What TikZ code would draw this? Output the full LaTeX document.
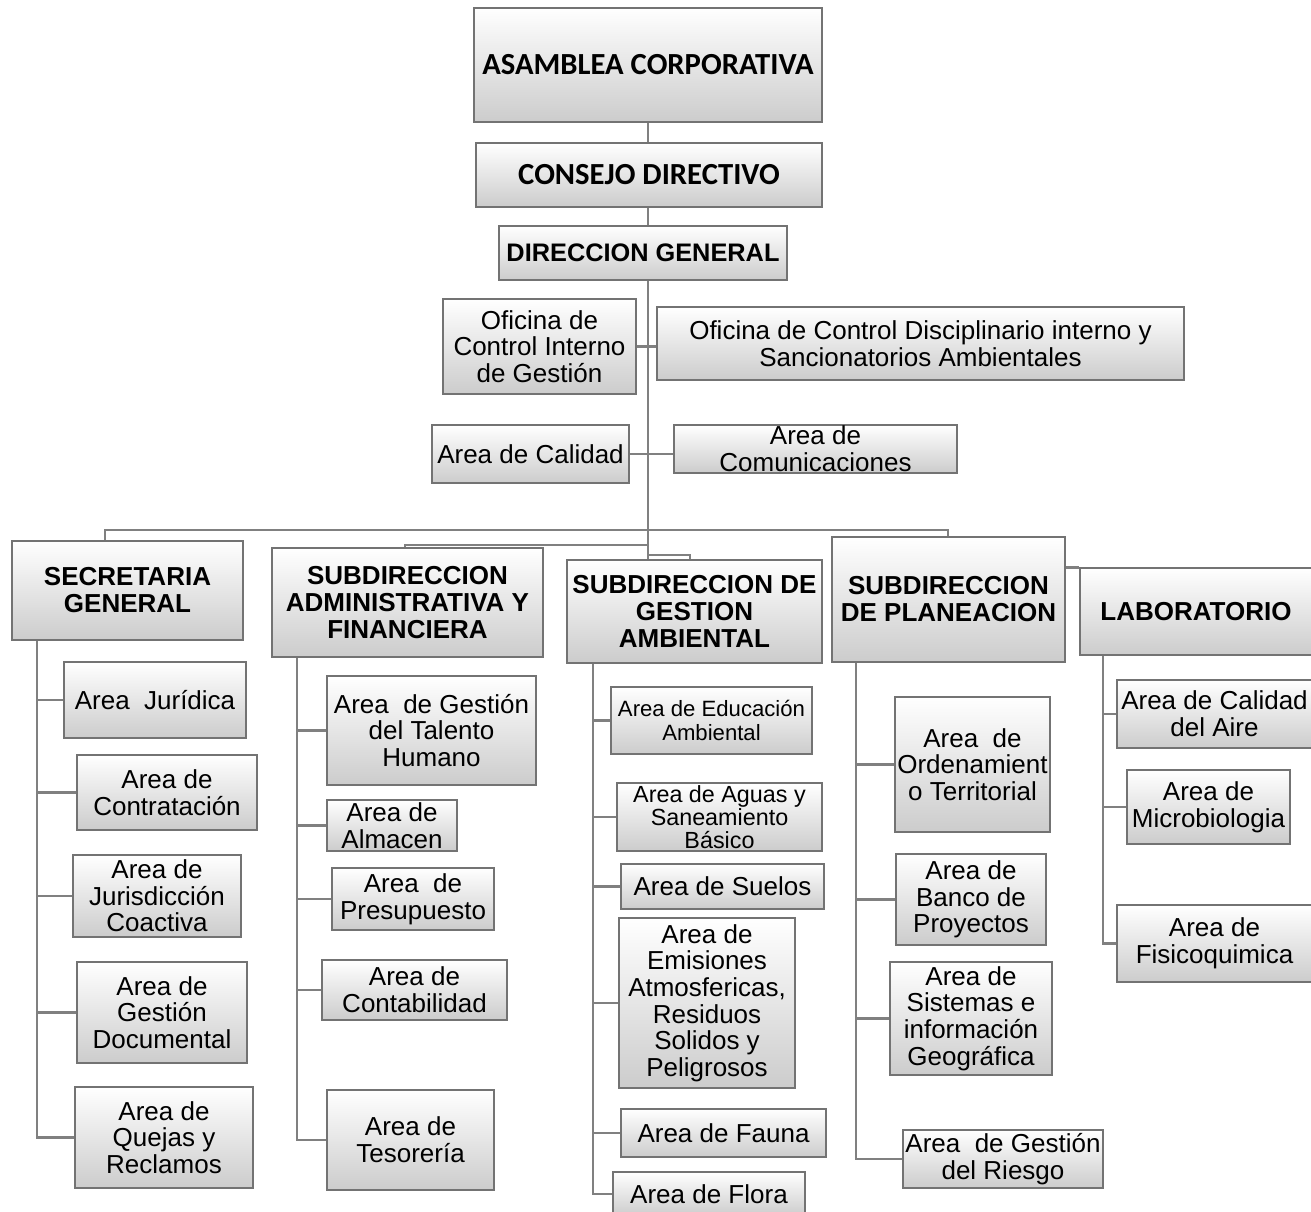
\documentclass[tikz,border=0pt]{standalone}
\usepackage{fontspec}
\setmainfont{Liberation Sans}
\newfontfamily\calfont{Carlito}
\usetikzlibrary{shadows,backgrounds}
\tikzset{
 box/.style={draw=black!55, line width=1pt, top color=white, bottom color=black!20, inner sep=0pt, align=center,
   font=\fontsize{19.5}{20}\selectfont, drop shadow={shadow xshift=1pt, shadow yshift=-1pt, opacity=0.3}},
 head/.style={box, font=\fontsize{19.5}{20.25}\selectfont\bfseries},
 conn/.style={draw=black!50, line width=2.2pt},
}
\newcommand\obox[7]{\node[#6, minimum width={(#4-#2)*0.75pt}, minimum height={(#5-#3)*0.75pt}] (#1) at ({(#2+#4)/2},{(#3+#5)/2}) {#7};}
\begin{document}
\begin{tikzpicture}[x=0.75pt,y=-0.75pt]
\useasboundingbox (0,0) rectangle (1311,1211);
% top
\obox{ac}{474}{8}{822}{122}{box, font=\calfont\bfseries\fontsize{23}{24}\selectfont}{ASAMBLEA CORPORATIVA}
\obox{cd}{476}{143}{822}{207}{box, font=\calfont\bfseries\fontsize{23}{24}\selectfont}{CONSEJO DIRECTIVO}
\obox{dg}{499}{226}{787}{280}{box, font=\bfseries\fontsize{19}{20}\selectfont}{DIRECCION GENERAL}
\obox{ocig}{443}{299}{636}{394}{box}{Oficina de\\Control Interno\\de Gestión}
\obox{ocd}{657}{307}{1184}{380}{box}{Oficina de Control Disciplinario interno y\\Sancionatorios Ambientales}
\obox{cal}{432}{425}{629}{483}{box}{Area de Calidad}
\obox{com}{674}{425}{957}{473}{box}{Area de\\Comunicaciones}
% second row
\obox{sg}{12}{541}{243}{640}{head}{SECRETARIA\\GENERAL}
\obox{sadf}{272}{548}{543}{657}{head}{SUBDIRECCION\\ADMINISTRATIVA Y\\FINANCIERA}
\obox{ga}{567}{560}{822}{663}{head}{SUBDIRECCION DE\\GESTION\\AMBIENTAL}
\obox{pl}{832}{537}{1065}{662}{head}{SUBDIRECCION\\DE PLANEACION}
\obox{lab}{1080}{568}{1312}{655}{head}{LABORATORIO}
% secretaria
\obox{sg1}{64}{662}{246}{738}{box}{Area~~Jurídica}
\obox{sg2}{77}{755}{257}{830}{box}{Area de\\Contratación}
\obox{sg3}{73}{855}{241}{937}{box}{Area de\\Jurisdicción\\Coactiva}
\obox{sg4}{77}{962}{247}{1063}{box}{Area de\\Gestión\\Documental}
\obox{sg5}{75}{1087}{253}{1188}{box}{Area de\\Quejas y\\Reclamos}
% sadf
\obox{sa1}{327}{676}{536}{785}{box}{Area~~de Gestión\\del Talento\\Humano}
\obox{sa2}{327}{800}{457}{851}{box}{Area de\\Almacen}
\obox{sa3}{332}{868}{494}{930}{box}{Area~~de\\Presupuesto}
\obox{sa4}{322}{960}{507}{1020}{box}{Area de\\Contabilidad}
\obox{sa5}{327}{1090}{494}{1190}{box}{Area de\\Tesorería}
% gestion ambiental
\obox{ga1}{611}{687}{812}{754}{box, font=\fontsize{16.6}{18}\selectfont}{Area de Educación\\Ambiental}
\obox{ga2}{617}{783}{822}{851}{box, font=\fontsize{17.5}{17}\selectfont}{Area de Aguas y\\Saneamiento\\Básico}
\obox{ga3}{621}{864}{824}{909}{box}{Area de Suelos}
\obox{ga4}{619}{918}{795}{1088}{box}{Area de\\Emisiones\\Atmosfericas,\\Residuos\\Solidos y\\Peligrosos}
\obox{ga5}{621}{1109}{826}{1157}{box}{Area de Fauna}
\obox{ga6}{613}{1172}{805}{1216}{box}{Area de Flora}
% planeacion
\obox{pl1}{895}{697}{1050}{832}{box}{Area~~de\\Ordenamient\\o Territorial}
\obox{pl2}{896}{854}{1046}{945}{box}{Area de\\Banco de\\Proyectos}
\obox{pl3}{890}{962}{1052}{1075}{box}{Area de\\Sistemas e\\información\\Geográfica}
\obox{pl4}{903}{1130}{1103}{1188}{box}{Area~~de Gestión\\del Riesgo}
% laboratorio
\obox{lb1}{1117}{680}{1312}{748}{box}{Area de Calidad\\del Aire}
\obox{lb2}{1127}{770}{1290}{844}{box}{Area de\\Microbiologia}
\obox{lb3}{1117}{905}{1312}{982}{box}{Area de\\Fisicoquimica}

\begin{scope}[on background layer]
\draw[conn] (ac.south -| 648,0) -- (cd.north -| 648,0);
\draw[conn] (cd.south -| 648,0) -- (dg.north -| 648,0);
\draw[conn] (dg.south -| 648,0) -- (ga.north -| 648,0);
\draw[conn] (ocig.east) -- (ocig.east -| ocd.west);
\draw[conn] (cal.east) -- (cal.east -| com.west);
\draw[conn] (sg.north -| 105,0) |- (948,530) -- (pl.north -| 948,0);
\draw[conn] (sadf.north -| 405,0) |- (648,545);
\draw[conn] (648,555) -| (ga.north -| 690,0);
\draw[conn] (pl.east |- lab.north) -- (lab.north west);
% spines
\draw[conn] (sg.south -| 37,0) |- (sg5.west);
\foreach \n in {sg1,sg2,sg3,sg4} \draw[conn] (37,0 |- \n.west) -- (\n.west);
\draw[conn] (sadf.south -| 297,0) |- (sa5.west);
\foreach \n in {sa1,sa2,sa3,sa4} \draw[conn] (297,0 |- \n.west) -- (\n.west);
\draw[conn] (ga.south -| 593,0) |- (ga6.west);
\foreach \n in {ga1,ga2,ga3,ga4,ga5} \draw[conn] (593,0 |- \n.west) -- (\n.west);
\draw[conn] (pl.south -| 856,0) |- (pl4.west);
\foreach \n in {pl1,pl2,pl3} \draw[conn] (856,0 |- \n.west) -- (\n.west);
\draw[conn] (lab.south -| 1103,0) |- (lb3.west);
\foreach \n in {lb1,lb2} \draw[conn] (1103,0 |- \n.west) -- (\n.west);
\end{scope}
\end{tikzpicture}
\end{document}
